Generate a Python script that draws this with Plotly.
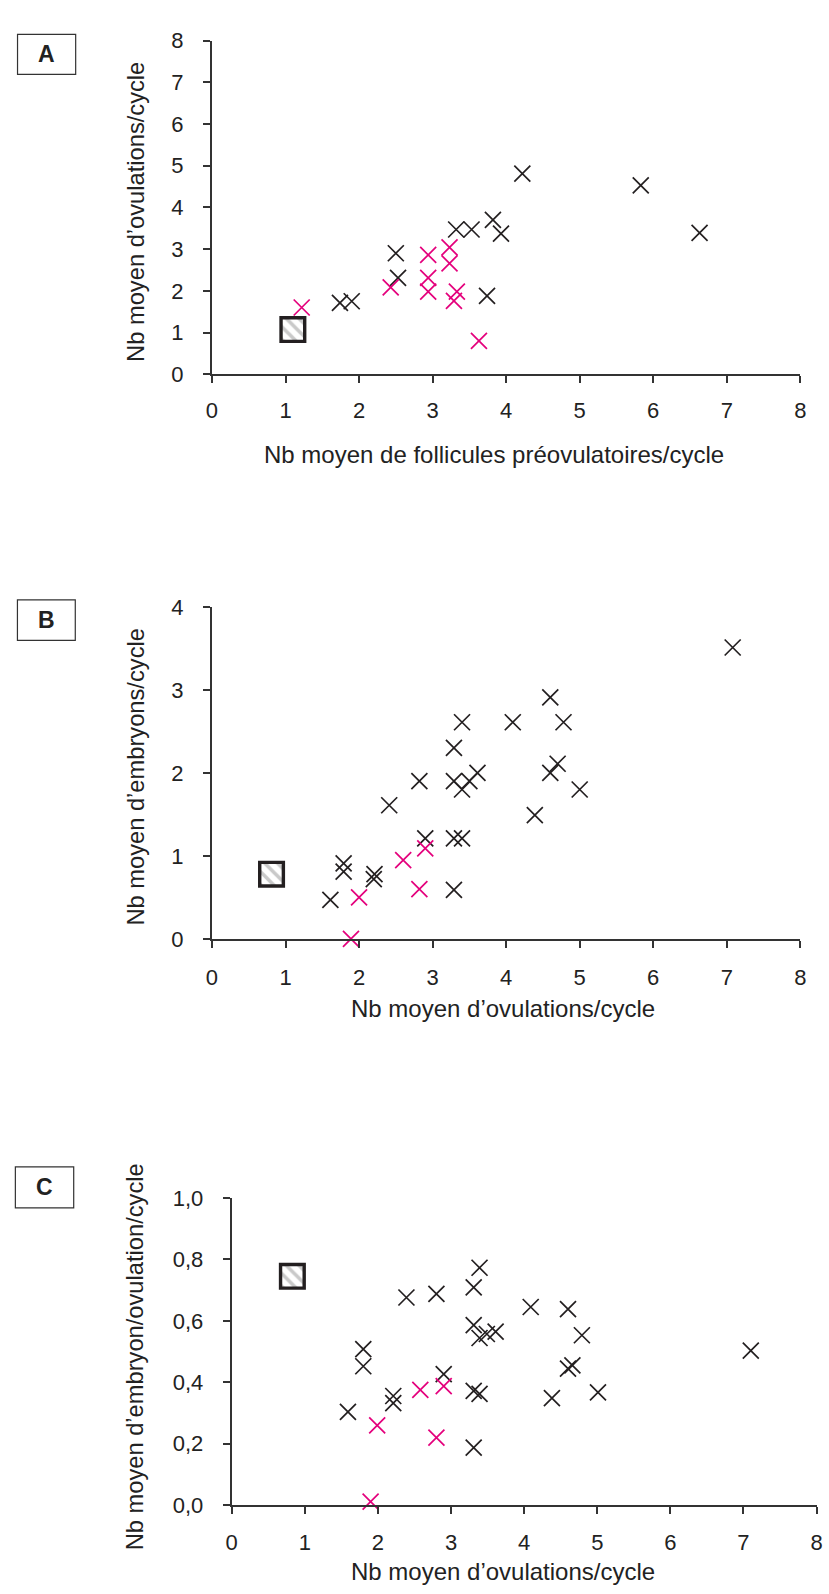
import plotly.graph_objects as go

W, H = 829, 1594

# ---------------- data ----------------
# Panel A : follicules préovulatoires vs ovulations
A_black_x = [4.22, 5.83, 6.63, 3.32, 3.53, 3.82, 3.93, 2.50, 2.53, 3.74, 1.74, 1.90]
A_black_y = [4.81, 4.53, 3.39, 3.47, 3.47, 3.70, 3.37, 2.90, 2.31, 1.88, 1.71, 1.75]
A_pink_x = [1.22, 2.43, 2.94, 2.94, 2.94, 3.23, 3.23, 3.33, 3.29, 3.63]
A_pink_y = [1.60, 2.08, 2.86, 2.31, 1.98, 3.04, 2.66, 1.98, 1.76, 0.80]
A_square = (1.10, 1.07)

# Panel B : ovulations vs embryons
B_black_x = [7.08, 4.60, 3.40, 4.09, 4.78, 3.29, 2.82, 3.29, 3.50, 3.40, 3.61, 4.60, 4.70,
             5.00, 4.39, 2.41, 2.90, 3.29, 3.40, 3.29, 1.79, 1.79, 2.21, 2.20, 1.61]
B_black_y = [3.51, 2.91, 2.61, 2.61, 2.61, 2.30, 1.90, 1.90, 1.90, 1.80, 2.00, 2.00, 2.11,
             1.80, 1.49, 1.61, 1.21, 1.21, 1.21, 0.59, 0.91, 0.81, 0.78, 0.72, 0.47]
B_pink_x = [1.89, 2.00, 2.60, 2.90, 2.82]
B_pink_y = [0.00, 0.50, 0.95, 1.09, 0.60]
B_square = (0.81, 0.78)

# Panel C : ovulations vs embryon/ovulation
C_black_x = [3.39, 3.31, 2.39, 2.80, 4.09, 4.60, 4.79, 3.31, 3.39, 3.49, 3.61, 7.10, 1.80,
             1.80, 2.90, 4.60, 4.66, 3.31, 3.39, 5.01, 4.38, 2.21, 2.21, 1.59, 3.31]
C_black_y = [0.773, 0.709, 0.676, 0.688, 0.645, 0.638, 0.553, 0.586, 0.544, 0.557, 0.565,
             0.503, 0.508, 0.452, 0.426, 0.444, 0.455, 0.372, 0.362, 0.367, 0.348, 0.355,
             0.332, 0.303, 0.187]
C_pink_x = [1.90, 1.99, 2.58, 2.90, 2.80]
C_pink_y = [0.011, 0.259, 0.375, 0.387, 0.219]
C_square = (0.83, 0.745)

x_ticks = [0, 1, 2, 3, 4, 5, 6, 7, 8]
A_y_ticks = [0, 1, 2, 3, 4, 5, 6, 7, 8]
B_y_ticks = [0, 1, 2, 3, 4]
C_y_ticks = [0.0, 0.2, 0.4, 0.6, 0.8, 1.0]
C_y_ticktext = ["0,0", "0,2", "0,4", "0,6", "0,8", "1,0"]

panel_letters = ["A", "B", "C"]
x_titles = ["Nb moyen de follicules préovulatoires/cycle",
            "Nb moyen d’ovulations/cycle",
            "Nb moyen d’ovulations/cycle"]
y_titles = ["Nb moyen d’ovulations/cycle",
            "Nb moyen d’embryons/cycle",
            "Nb moyen d’embryon/ovulation/cycle"]

# ---------------- style / layout (pixels) ----------------
BLACK = "#231f20"
PINK = "#e4007c"
AXIS = "#333333"
FONT = "Liberation Sans, Arial, Helvetica, sans-serif"

panels = [
    dict(px=(209, 806), py=(29, 368), yr=(0, 8), yt=A_y_ticks, ytt=None,
         bx=A_black_x, by=A_black_y, kx=A_pink_x, ky=A_pink_y, sq=A_square,
         box=(11.7, 22.7, 70.7, 63.3), xt=(495, 450), yt_pos=(132, 203), stand=8),
    dict(px=(209, 806), py=(604.3, 941.7), yr=(0, 4), yt=B_y_ticks, ytt=None,
         bx=B_black_x, by=B_black_y, kx=B_pink_x, ky=B_pink_y, sq=B_square,
         box=(11.6, 597.3, 70.3, 638.3), xt=(504.5, 1012), yt_pos=(131, 776.7), stand=11),
    dict(px=(229, 822.5), py=(1205, 1516.7), yr=(0, 1), yt=C_y_ticks, ytt=C_y_ticktext,
         bx=C_black_x, by=C_black_y, kx=C_pink_x, ky=C_pink_y, sq=C_square,
         box=(9.5, 1173.3, 68.7, 1215), xt=(504.5, 1584), yt_pos=(131, 1366.7), stand=10),
]

SQ_PX = 24  # inner size of the hatched square marker (pixels)

fig = go.Figure()
layout = dict(width=W, height=H, autosize=False, margin=dict(l=0, r=0, t=0, b=0),
              paper_bgcolor="white", plot_bgcolor="white", showlegend=False,
              font=dict(family=FONT, color="#222"), barmode="overlay")
shapes, annotations = [], []

for i, p in enumerate(panels):
    n = "" if i == 0 else str(i + 1)
    xa, ya = "x" + n, "y" + n
    x0p, x1p = p["px"]
    ytop, ybot = p["py"]
    xr = (0, 8)
    ax_common = dict(showgrid=False, zeroline=False, showline=True, linecolor=AXIS,
                     linewidth=2, ticks="outside", ticklen=7, tickwidth=1.5,
                     tickcolor=AXIS, tickfont=dict(size=22, color="#222", family=FONT),
                     fixedrange=True)
    layout["xaxis" + n] = dict(domain=[x0p / W, x1p / W], range=list(xr), anchor=ya,
                               tickmode="array", tickvals=x_ticks,
                               ticklabelstandoff=p["stand"], **ax_common)
    yax = dict(domain=[1 - ybot / H, 1 - ytop / H], range=list(p["yr"]), anchor=xa,
               tickmode="array", tickvals=p["yt"], ticklabelstandoff=15, **ax_common)
    if p["ytt"] is not None:
        yax["ticktext"] = p["ytt"]
    layout["yaxis" + n] = yax

    # hatched square marker as a patterned bar (size converted from pixels to data units)
    sx, sy = p["sq"]
    wx = SQ_PX * (xr[1] - xr[0]) / (x1p - x0p)
    hy = SQ_PX * (p["yr"][1] - p["yr"][0]) / (ybot - ytop)
    fig.add_trace(go.Bar(x=[sx], y=[hy], base=[sy - hy / 2], width=[wx],
                         xaxis=xa, yaxis=ya, hoverinfo="skip",
                         marker=dict(color="white", line=dict(color=BLACK, width=3.4),
                                     pattern=dict(shape="\\", fgcolor="#949494", bgcolor="white",
                                                  size=9, solidity=0.4))))

    fig.add_trace(go.Scatter(x=p["bx"], y=p["by"], mode="markers", xaxis=xa, yaxis=ya,
                             cliponaxis=False, hoverinfo="skip",
                             marker=dict(symbol="x-thin", size=16, color=BLACK,
                                         line=dict(color=BLACK, width=1.7))))
    fig.add_trace(go.Scatter(x=p["kx"], y=p["ky"], mode="markers", xaxis=xa, yaxis=ya,
                             cliponaxis=False, hoverinfo="skip",
                             marker=dict(symbol="x-thin", size=16, color=PINK,
                                         line=dict(color=PINK, width=1.7))))

    # panel letter box
    bx0, by0, bx1, by1 = p["box"]
    shapes.append(dict(type="rect", xref="paper", yref="paper",
                       x0=bx0 / W, x1=bx1 / W, y0=1 - by1 / H, y1=1 - by0 / H,
                       line=dict(color="#333", width=1.2), fillcolor="white"))
    annotations.append(dict(text="<b>%s</b>" % panel_letters[i], xref="paper", yref="paper",
                            x=(bx0 + bx1) / 2 / W, y=1 - (by0 + by1) / 2 / H,
                            xanchor="center", yanchor="middle", showarrow=False,
                            font=dict(size=23, color="#222", family=FONT)))
    # axis titles
    tx, ty = p["xt"]
    annotations.append(dict(text=x_titles[i], xref="paper", yref="paper",
                            x=tx / W, y=1 - ty / H, xanchor="center", yanchor="middle",
                            showarrow=False, font=dict(size=24, color="#222", family=FONT)))
    vx, vy = p["yt_pos"]
    annotations.append(dict(text=y_titles[i], xref="paper", yref="paper", textangle=-90,
                            x=vx / W, y=1 - vy / H, xanchor="center", yanchor="middle",
                            showarrow=False, font=dict(size=23.7, color="#222", family=FONT)))

layout["shapes"] = shapes
layout["annotations"] = annotations
fig.update_layout(**layout)

fig.write_html("out.html", config={"displayModeBar": False},
               post_script="document.body.style.margin='0';")
